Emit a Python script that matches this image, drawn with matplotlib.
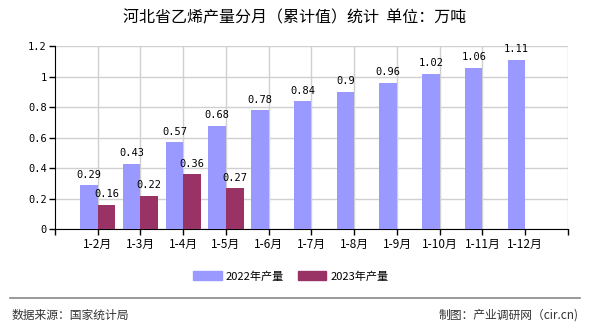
import numpy as np
import matplotlib.pyplot as plt
from matplotlib.patches import Patch
from matplotlib.lines import Line2D

plt.rcParams['font.family'] = ['Noto Sans CJK SC', 'DejaVu Sans']

months = ['1-2月', '1-3月', '1-4月', '1-5月', '1-6月', '1-7月', '1-8月',
          '1-9月', '1-10月', '1-11月', '1-12月']
output_2022 = [0.29, 0.43, 0.57, 0.68, 0.78, 0.84, 0.9, 0.96, 1.02, 1.06, 1.11]
output_2023 = [0.16, 0.22, 0.36, 0.27]

blue = '#9999ff'
plum = '#993366'
num_font = ['DejaVu Sans Mono', 'Noto Sans CJK SC']

fig = plt.figure(figsize=(5.9, 3.3), dpi=100)
ax = fig.add_axes([0.0932, 0.3052, 0.8695, 0.5545])

x = np.arange(1, len(months) + 1)
w = 0.41
b1 = ax.bar(x - w / 2, output_2022, width=w, color=blue, zorder=3)
b2 = ax.bar(x[:len(output_2023)] + w / 2, output_2023, width=w, color=plum, zorder=3)

for bars, vals in ((b1, output_2022), (b2, output_2023)):
    for rect, v in zip(bars, vals):
        ax.annotate(f'{v:g}', (rect.get_x() + rect.get_width() / 2, v),
                    xytext=(0, 4), textcoords='offset points', ha='center', va='bottom',
                    fontsize=7.5, family=num_font)

ax.set_xlim(0, 12)
ax.set_ylim(0, 1.2)
ax.set_yticks(np.arange(0, 1.21, 0.2))
ax.set_yticklabels(['0', '0.2', '0.4', '0.6', '0.8', '1', '1.2'], family=num_font, fontsize=7.5)
ax.set_xticks(np.arange(0, 13))
ax.set_xticklabels([''] + months + [''], fontsize=8.5)

# grid: horizontal at every tick, vertical at the group centres
ax.grid(axis='y', color='#d0d0d0', linewidth=1, zorder=0)
for gx in list(range(1, 11)) + [12]:
    ax.axvline(gx, color='#d0d0d0', linewidth=1, zorder=0)

for side in ['top', 'right']:
    ax.spines[side].set_visible(False)
ax.spines['left'].set_color('black')
ax.spines['bottom'].set_color('black')
ax.tick_params(axis='both', length=4, width=1, color='black', pad=2)

fig.text(0.5, 0.945, '河北省乙烯产量分月（累计值）统计  单位：万吨', ha='center', va='center',
         fontsize=11.5, fontweight='medium')

handles = [Patch(color=blue), Patch(color=plum)]
fig.legend(handles, ['2022年产量', '2023年产量'], loc='center', bbox_to_anchor=(0.493, 0.163),
           ncol=2, frameon=False, fontsize=8, handlelength=2.6, handleheight=0.8,
           columnspacing=1.2, handletextpad=0.4)

fig.add_artist(Line2D([0.017, 0.983], [0.097, 0.097], color='#888888', linewidth=1.2))
fig.text(0.02, 0.045, '数据来源：国家统计局', ha='left', va='center', fontsize=8.5, color='#333333')
fig.text(0.98, 0.045, '制图：产业调研网（cir.cn)', ha='right', va='center', fontsize=8.5, color='#333333')

fig.savefig('out.png', dpi=100)
